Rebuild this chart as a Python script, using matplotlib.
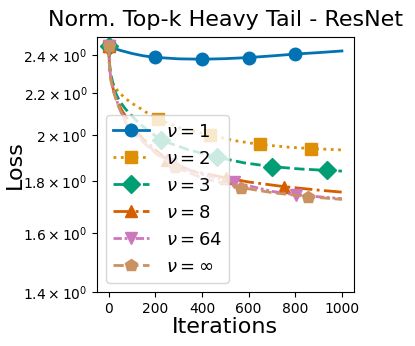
import numpy as np
import matplotlib
matplotlib.use('Agg')
import matplotlib.pyplot as plt
from matplotlib.ticker import NullLocator

# values
labels = [r'$\nu = 1$', r'$\nu = 2$', r'$\nu = 3$', r'$\nu = 8$', r'$\nu = 64$', r'$\nu = \infty$']

iters_1 = [0, 25, 50, 100, 150, 200, 300, 400, 500, 600, 700, 800, 900, 1000]
loss_1 = [2.447, 2.435, 2.425, 2.408, 2.395, 2.387, 2.379, 2.377, 2.380, 2.386, 2.395, 2.405, 2.413, 2.422]
marks_1 = [0, 200, 400, 600, 800]

iters_2 = [0, 3, 10, 20, 40, 70, 100, 133, 170, 212, 300, 433, 541, 650, 760, 866, 1000]
loss_2 = [2.447, 2.31, 2.27, 2.24, 2.21, 2.175, 2.15, 2.127, 2.10, 2.074, 2.035, 2.000, 1.975, 1.958, 1.947, 1.940, 1.934]
marks_2 = [0, 212, 433, 650, 866]

iters_3 = [0, 3, 8, 16, 30, 47, 70, 90, 130, 170, 226, 340, 466, 580, 700, 820, 937, 1000]
loss_3 = [2.447, 2.36, 2.30, 2.26, 2.20, 2.16, 2.125, 2.10, 2.055, 2.02, 1.977, 1.935, 1.902, 1.878, 1.862, 1.852, 1.846, 1.843]
marks_3 = [0, 226, 466, 700, 937]

iters_8 = [0, 3, 10, 25, 54, 100, 150, 200, 251, 350, 502, 600, 753, 900, 1000]
loss_8 = [2.447, 2.35, 2.27, 2.19, 2.12, 2.04, 1.98, 1.935, 1.89, 1.845, 1.815, 1.798, 1.779, 1.765, 1.757]
marks_8 = [0, 251, 502, 753]

iters_64 = [0, 3, 10, 25, 40, 75, 125, 200, 268, 400, 537, 700, 805, 1000]
loss_64 = [2.447, 2.34, 2.265, 2.195, 2.145, 2.055, 1.995, 1.925, 1.875, 1.83, 1.797, 1.76, 1.746, 1.731]
marks_64 = [0, 268, 537, 805]

iters_inf = [0, 3, 10, 25, 40, 75, 125, 200, 285, 400, 569, 700, 854, 1000]
loss_inf = [2.447, 2.34, 2.26, 2.19, 2.14, 2.05, 1.99, 1.92, 1.86, 1.815, 1.775, 1.755, 1.739, 1.728]
marks_inf = [0, 285, 569, 854]

yticks = [1.4, 1.6, 1.8, 2.0, 2.2, 2.4]

colors = ['#0173b2', '#de8f05', '#029e73', '#d55e00', '#cc78bc', '#ca9161']
styles = ['-', ':', '--', '-.', (0, (3, 1, 1, 1, 1, 1)), '--']
markers = ['o', 's', 'D', '^', 'v', 'p']

series = [(iters_1, loss_1, marks_1), (iters_2, loss_2, marks_2), (iters_3, loss_3, marks_3),
          (iters_8, loss_8, marks_8), (iters_64, loss_64, marks_64), (iters_inf, loss_inf, marks_inf)]

fig = plt.figure(figsize=(4.15, 3.46), dpi=100)
ax_1 = fig.add_axes([0.234, 0.156, 0.618, 0.737])

for i, (x, y, m) in enumerate(series):
    idx = [x.index(v) for v in m]
    ax_1.plot(x, y, color=colors[i], linestyle=styles[i], linewidth=2,
              marker=markers[i], markersize=9, markevery=idx, label=labels[i])

ax_1.set_yscale('log')
ax_1.set_ylim(1.4, 2.5)
ax_1.set_xlim(-50, 1050)
ax_1.set_yticks(yticks)
ax_1.yaxis.set_minor_locator(NullLocator())
ax_1.set_xticks([0, 200, 400, 600, 800, 1000])
ax_1.tick_params(labelsize=10)

ax_1.set_xlabel('Iterations', fontsize=16, labelpad=1)
ax_1.set_ylabel('Loss', fontsize=16)
ax_1.yaxis.set_label_coords(-0.28, 0.5)
ax_1.set_title('Norm. Top-k Heavy Tail - ResNet', fontsize=16, pad=8)

ax_1.legend(loc='lower left', fontsize=13, handletextpad=0.9)
plt.savefig('out.png', dpi=100)
